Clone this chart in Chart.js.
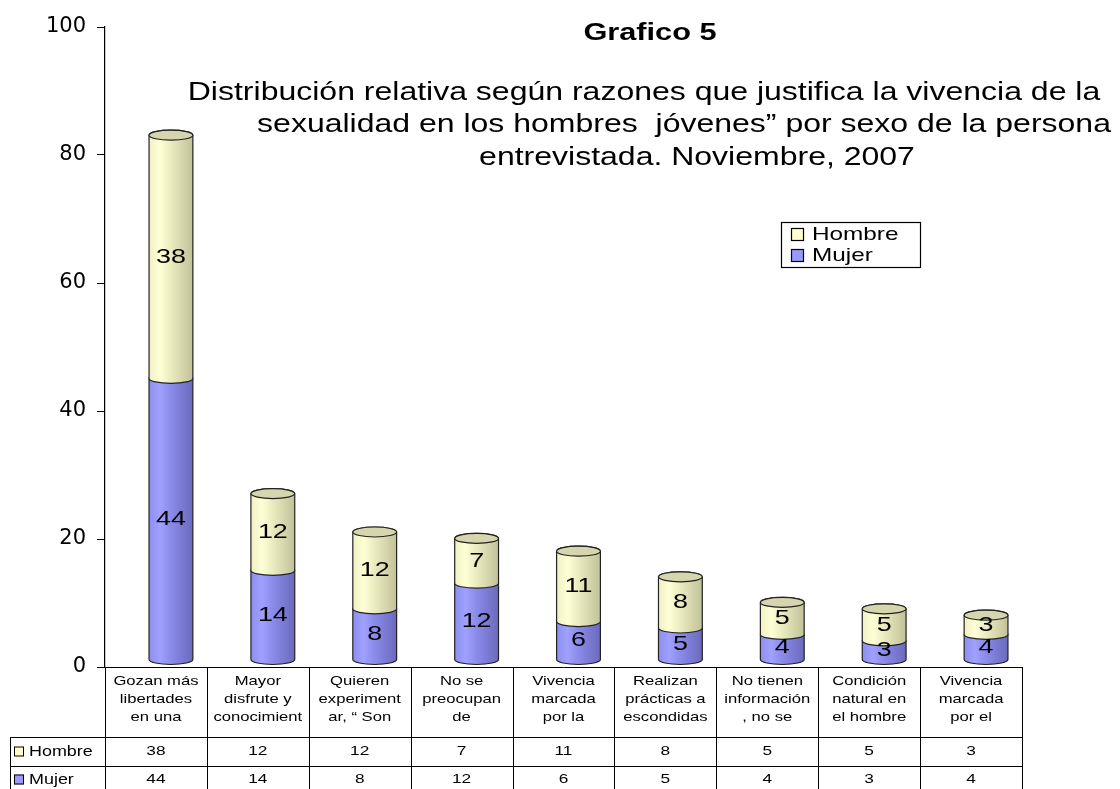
<!DOCTYPE html>
<html>
<head>
<meta charset="utf-8">
<script src="https://cdn.jsdelivr.net/npm/chart.js@4.4.0/dist/chart.umd.min.js"></script>
<style>
html, body { margin: 0; padding: 0; background: #fff; }
#wrap { width: 1120px; height: 789px; }
</style>
</head>
<body>
<div id="wrap"><canvas id="barChart"></canvas></div>
<script>
// categorias (texto truncado como en el original)
const categorias = [
    ['Gozan más', 'libertades', 'en una'],
    ['Mayor', 'disfrute y', 'conocimient'],
    ['Quieren', 'experiment', 'ar, “ Son'],
    ['No se', 'preocupan', 'de'],
    ['Vivencia', 'marcada', 'por la'],
    ['Realizan', 'prácticas a', 'escondidas'],
    ['No tienen', 'información', ', no se'],
    ['Condición', 'natural en', 'el hombre'],
    ['Vivencia', 'marcada', 'por el']
];
const hombre = [38, 12, 12, 7, 11, 8, 5, 5, 3];
const mujer = [44, 14, 8, 12, 6, 5, 4, 3, 4];
const yTicks = [0, 20, 40, 60, 80, 100];
const titulo = 'Grafico 5';
const subtitulo = [
    'Distribución relativa según razones que justifica la vivencia de la',
    'sexualidad en los hombres  jóvenes” por sexo de la persona',
    'entrevistada. Noviembre, 2007'
];

const colores = {
    Hombre: { stops: ['#f0f0c4', '#ffffd6', '#ebebc0', '#d6d6ac', '#c2c29a'], tapa: '#d6d6ae', caja: '#ffffcc' },
    Mujer: { stops: ['#8e8ef0', '#a0a0ff', '#8a8aea', '#7a7ad4', '#6a6abc'], tapa: '#8080dd', caja: '#9999ff' }
};
const STRETCH = 1.28; // el original esta estirado en horizontal
const DX = 15, DY = -7, RY = 5;

function texto(ctx, str, x, y, size, opts = {}) {
    ctx.save();
    ctx.font = (opts.bold ? 'bold ' : '') + size + 'px "Liberation Sans", Arial, sans-serif';
    ctx.fillStyle = '#000';
    ctx.textBaseline = 'middle';
    ctx.textAlign = opts.align || 'center';
    ctx.translate(x, y);
    ctx.scale(STRETCH, 1);
    ctx.fillText(str, 0, 0);
    ctx.restore();
}

function cilindro(ctx, left, right, top, bottom, col, tapa) {
    const cx = (left + right) / 2, rx = (right - left) / 2;
    const g = ctx.createLinearGradient(left, 0, right, 0);
    col.stops.forEach((c, i) => g.addColorStop(i / (col.stops.length - 1), c));
    ctx.beginPath();
    ctx.moveTo(left, top);
    ctx.lineTo(left, bottom);
    ctx.ellipse(cx, bottom, rx, RY, 0, Math.PI, 0, true);
    ctx.lineTo(right, top);
    ctx.ellipse(cx, top, rx, RY, 0, 0, Math.PI, true);
    ctx.closePath();
    ctx.fillStyle = g;
    ctx.fill();
    ctx.lineWidth = 1.2;
    ctx.strokeStyle = '#222';
    ctx.stroke();
    if (tapa) {
        ctx.beginPath();
        ctx.ellipse(cx, top, rx, RY, 0, 0, Math.PI * 2);
        ctx.fillStyle = col.tapa;
        ctx.fill();
        ctx.stroke();
    }
}

const cilindrosPlugin = {
    id: 'cilindros',
    afterDatasetsDraw(chart) {
        const ctx = chart.ctx;
        const n = chart.data.datasets.length;
        chart.data.datasets.forEach((ds, d) => {
            const meta = chart.getDatasetMeta(d);
            meta.data.forEach((bar) => {
                const p = bar.getProps(['x', 'y', 'base', 'width'], true);
                const left = p.x - p.width / 2 + DX, right = p.x + p.width / 2 + DX;
                cilindro(ctx, left, right, p.y + DY, p.base + DY, colores[ds.label], d === n - 1);
            });
        });
        chart.data.datasets.forEach((ds, d) => {
            const meta = chart.getDatasetMeta(d);
            meta.data.forEach((bar, i) => {
                const p = bar.getProps(['x', 'y', 'base'], true);
                texto(ctx, String(ds.data[i]), p.x + DX, (p.y + p.base) / 2 + DY, 21);
            });
        });
    }
};

const decoracionPlugin = {
    id: 'decoracion',
    afterDraw(chart) {
        const ctx = chart.ctx;
        const area = chart.chartArea;
        const x = chart.scales.x;
        // titulos
        texto(ctx, titulo, 650, 33, 24, { bold: true });
        texto(ctx, subtitulo[0], 644, 93, 25);
        texto(ctx, subtitulo[1], 684, 125, 25);
        texto(ctx, subtitulo[2], 697, 158, 25);

        // leyenda
        ctx.save();
        ctx.strokeStyle = '#000';
        ctx.lineWidth = 1.2;
        ctx.strokeRect(781.5, 222.5, 139, 45);
        ['Hombre', 'Mujer'].forEach((lab, i) => {
            const yy = 234 + i * 21;
            ctx.fillStyle = colores[lab].caja;
            ctx.fillRect(791, yy - 6, 13, 13);
            ctx.strokeRect(791.5, yy - 5.5, 12, 12);
            texto(ctx, lab, 812, yy + 1, 19, { align: 'left' });
        });
        ctx.restore();

        // tabla de datos
        const top = area.bottom, r1 = top + 70, r2 = r1 + 29, r3 = r2 + 27;
        const paso = (area.right - area.left) / categorias.length;
        ctx.save();
        ctx.strokeStyle = '#000';
        ctx.lineWidth = 1;
        ctx.beginPath();
        [top, r1, r2, r3].forEach((yy, k) => {
            ctx.moveTo(k === 0 ? area.left : 10, yy + 0.5);
            ctx.lineTo(area.right, yy + 0.5);
        });
        ctx.moveTo(10.5, r1);
        ctx.lineTo(10.5, r3);
        for (let i = 0; i <= categorias.length; i++) {
            const xx = Math.round(area.left + i * paso) + 0.5;
            ctx.moveTo(xx, top);
            ctx.lineTo(xx, r3);
        }
        ctx.stroke();
        categorias.forEach((lines, i) => {
            const cx = x.getPixelForValue(i);
            lines.forEach((l, j) => texto(ctx, l, cx, top + 14 + j * 18, 13));
            texto(ctx, String(hombre[i]), cx, (r1 + r2) / 2, 13.5);
            texto(ctx, String(mujer[i]), cx, (r2 + r3) / 2, 13.5);
        });
        [['Hombre', r1, r2], ['Mujer', r2, r3]].forEach(([lab, a, b]) => {
            const yy = (a + b) / 2;
            ctx.fillStyle = colores[lab].caja;
            ctx.fillRect(14, yy - 5, 10, 10);
            ctx.strokeRect(14.5, yy - 4.5, 9, 9);
            texto(ctx, lab, 29, yy + 1, 14, { align: 'left' });
        });
        ctx.restore();
    }
};

const ctxBar = document.getElementById('barChart').getContext('2d');
const barChart = new Chart(ctxBar, {
    type: 'bar',
    data: {
        labels: categorias,
        datasets: [
            { label: 'Mujer', data: mujer, backgroundColor: 'rgba(0,0,0,0)', borderWidth: 0 },
            { label: 'Hombre', data: hombre, backgroundColor: 'rgba(0,0,0,0)', borderWidth: 0 }
        ]
    },
    options: {
        responsive: true,
        maintainAspectRatio: false,
        animation: false,
        layout: { padding: { top: 27, bottom: 122, right: 98, left: 0 } },
        plugins: { legend: { display: false }, title: { display: false }, tooltip: { enabled: false } },
        datasets: { bar: { categoryPercentage: 1, barPercentage: 0.43 } },
        scales: {
            x: { stacked: true, display: false },
            y: {
                stacked: true,
                min: 0,
                max: 100,
                afterBuildTicks: (s) => { s.ticks = yTicks.map(v => ({ value: v })); },
                afterFit: (s) => { s.width = 105; },
                ticks: { color: '#000', font: { family: 'DejaVu Sans', size: 21 }, padding: 11 },
                grid: { drawOnChartArea: false, drawTicks: true, tickLength: 8, color: '#000' },
                border: { color: '#000', width: 1.2 }
            }
        }
    },
    plugins: [cilindrosPlugin, decoracionPlugin]
});
</script>
</body>
</html>
